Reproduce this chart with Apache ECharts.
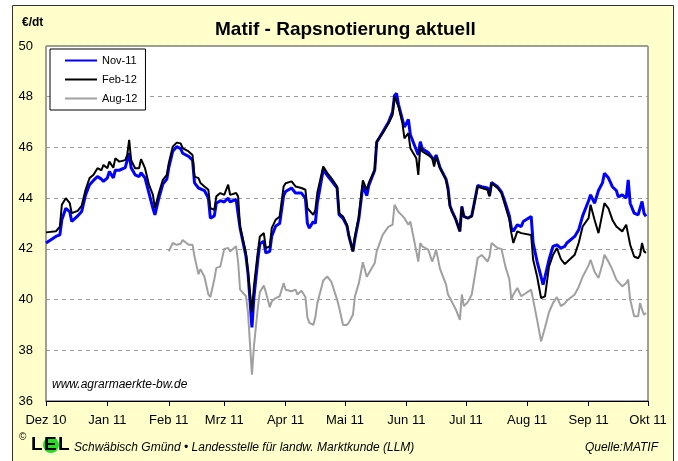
<!DOCTYPE html>
<html style="height: 100%">
<head>
<meta charset="utf-8">
</head>
<body style="height: 100%; margin: 0; background: #fff">
<div id="container" style="width: 678px; height: 461px"></div>
<script src="https://cdn.jsdelivr.net/npm/echarts@6/dist/echarts.min.js"></script>
<script type="text/javascript">
// trading days (approx.)
var dates = [
 '2010-12-01','2010-12-06','2010-12-08','2010-12-09','2010-12-11','2010-12-13','2010-12-14','2010-12-17','2010-12-19','2010-12-21',
 '2010-12-23','2010-12-25','2010-12-27','2010-12-29','2010-12-30','2011-01-01','2011-01-02','2011-01-04','2011-01-05','2011-01-07',
 '2011-01-10','2011-01-11','2011-01-12','2011-01-13','2011-01-15','2011-01-17','2011-01-18','2011-01-20','2011-01-22','2011-01-24',
 '2011-01-25','2011-01-27','2011-01-29','2011-01-31','2011-02-01','2011-02-03','2011-02-05','2011-02-07','2011-02-08','2011-02-11',
 '2011-02-13','2011-02-14','2011-02-16','2011-02-17','2011-02-19','2011-02-21','2011-02-22','2011-02-24','2011-02-25','2011-02-27',
 '2011-03-01','2011-03-03','2011-03-04','2011-03-07','2011-03-08','2011-03-09','2011-03-12','2011-03-13','2011-03-15','2011-03-16',
 '2011-03-18','2011-03-19','2011-03-21','2011-03-22','2011-03-24','2011-03-25','2011-03-27','2011-03-29','2011-03-31','2011-04-01',
 '2011-04-04','2011-04-06','2011-04-07','2011-04-09','2011-04-11','2011-04-12','2011-04-13','2011-04-15','2011-04-16','2011-04-17',
 '2011-04-20','2011-04-22','2011-04-24','2011-04-27','2011-04-28','2011-04-30','2011-05-02','2011-05-03','2011-05-05','2011-05-06',
 '2011-05-08','2011-05-10','2011-05-12','2011-05-13','2011-05-16','2011-05-17','2011-05-20','2011-05-23','2011-05-25','2011-05-26',
 '2011-05-27','2011-05-28','2011-05-30','2011-05-31','2011-06-02','2011-06-03','2011-06-06','2011-06-07','2011-06-08','2011-06-09',
 '2011-06-12','2011-06-14','2011-06-15','2011-06-16','2011-06-18','2011-06-21','2011-06-22','2011-06-23','2011-06-24','2011-06-26',
 '2011-06-28','2011-06-29','2011-06-30','2011-07-02','2011-07-04','2011-07-07','2011-07-09','2011-07-12','2011-07-13','2011-07-14',
 '2011-07-17','2011-07-19','2011-07-21','2011-07-23','2011-07-24','2011-07-25','2011-07-27','2011-07-29','2011-07-30','2011-08-03',
 '2011-08-04','2011-08-06','2011-08-08','2011-08-09','2011-08-10','2011-08-12','2011-08-14','2011-08-16','2011-08-18','2011-08-20',
 '2011-08-21','2011-08-25','2011-08-27','2011-08-29','2011-09-01','2011-09-02','2011-09-04','2011-09-06','2011-09-08','2011-09-09',
 '2011-09-11','2011-09-13','2011-09-15','2011-09-16','2011-09-18','2011-09-20','2011-09-21','2011-09-22','2011-09-24','2011-09-26',
 '2011-09-27','2011-09-28','2011-09-29','2011-09-30'
];
var nov11 = [
 42.23,42.49,42.55,43.15,43.6,43.47,43.08,43.3,43.47,44.13,
 44.53,44.7,44.85,44.75,44.66,44.8,45.05,44.8,45.1,45.1,
 45.2,45.25,45.77,45.2,44.92,44.85,45.0,44.8,44.2,43.6,
 43.34,44.0,44.55,44.75,45.2,45.85,46.03,45.95,45.77,45.65,
 45.5,44.6,44.4,44.33,44.3,44.0,43.21,43.3,43.8,43.9,
 43.85,44.0,43.85,43.95,43.9,42.82,41.7,41.05,38.9,40.1,
 41.6,42.2,42.3,41.84,41.9,42.5,42.9,43.0,44.1,44.26,
 44.4,44.2,44.13,44.2,44.0,43.0,42.82,43.08,43.0,43.8,
 45.12,44.9,44.7,44.4,43.35,43.2,42.9,42.49,41.9,42.4,
 43.2,44.5,44.1,44.5,45.1,46.2,46.6,47.0,47.4,48.05,
 48.13,47.7,47.1,46.8,47.1,46.5,45.9,45.7,46.23,45.95,
 45.8,45.6,45.5,45.7,45.2,44.75,44.4,43.7,43.5,43.15,
 42.69,43.67,43.28,43.21,43.3,44.5,44.45,44.4,44.1,44.62,
 44.45,44.25,43.8,43.3,42.82,42.7,42.95,42.88,43.08,43.28,
 42.23,41.5,40.9,40.59,40.9,41.57,42.1,42.16,42.03,42.1,
 42.23,42.49,42.75,43.3,43.9,44.13,43.8,44.3,44.6,44.98,
 44.8,44.45,44.3,44.05,44.13,44.0,44.72,43.8,43.41,43.34,
 43.4,43.87,43.4,43.28
];
var feb12 = [
 42.65,42.69,42.88,43.74,44.0,43.8,43.41,43.5,43.7,44.33,
 44.79,44.92,45.18,45.1,45.31,45.18,45.44,45.2,45.57,45.44,
 45.5,45.7,46.3,45.5,45.18,45.18,45.54,45.18,44.53,44.13,
 43.6,44.2,44.72,44.92,45.38,46.03,46.19,46.16,45.97,45.84,
 45.7,44.85,44.79,44.6,44.46,44.33,43.6,43.54,44.07,44.2,
 44.13,44.53,44.13,44.2,44.07,42.88,41.83,41.05,39.5,40.52,
 41.9,42.49,42.62,42.03,42.1,42.82,43.15,43.28,44.46,44.59,
 44.66,44.46,44.46,44.4,44.33,43.6,43.54,43.34,43.54,44.2,
 45.25,45.0,44.8,44.46,43.41,43.28,42.95,42.49,41.9,42.49,
 43.28,44.7,44.33,44.6,45.12,46.23,46.56,46.95,47.28,48.0,
 48.07,47.61,46.95,46.36,46.56,45.97,45.57,44.92,46.03,45.84,
 45.7,45.57,45.25,45.64,45.18,44.72,44.33,43.67,43.47,43.15,
 42.69,43.67,43.28,43.21,43.28,44.46,44.4,44.33,44.07,44.59,
 44.4,44.2,43.67,43.15,42.62,42.23,42.69,42.62,42.69,42.55,
 41.57,40.91,40.06,40.06,40.13,41.3,41.76,42.03,41.6,41.4,
 41.44,41.77,42.23,42.88,43.21,43.74,43.15,42.62,43.41,43.8,
 43.6,43.15,42.88,42.88,42.69,42.95,43.02,42.16,41.7,41.63,
 41.76,42.23,41.9,41.84
];
var aug12 = [
 null,null,null,null,null,null,null,null,null,null,
 null,null,null,null,null,null,null,null,null,null,
 null,null,null,null,null,null,null,null,null,null,
 null,null,null,null,41.9,42.23,42.16,42.2,42.35,42.16,
 42.16,41.7,41.0,41.2,40.9,40.2,40.1,40.8,41.25,41.3,
 42.0,42.03,41.9,42.1,41.5,40.39,40.13,39.5,37.04,38.16,
 39.7,40.3,40.55,40.3,39.7,39.93,40.06,40.13,40.65,40.39,
 40.33,40.39,40.2,40.35,40.1,39.3,39.08,39.0,39.3,39.85,
 40.75,40.91,40.72,40.0,39.7,39.0,39.0,39.1,39.4,40.13,
 40.65,41.47,40.9,40.85,41.44,41.9,42.55,42.88,42.95,43.74,
 43.67,43.45,43.3,43.21,42.95,43.08,41.9,41.5,42.23,42.1,
 41.97,41.5,41.7,41.97,41.2,40.6,40.2,40.06,40.13,39.6,
 39.2,40.2,39.74,39.9,40.2,41.64,41.76,41.5,41.7,42.23,
 42.03,42.0,41.3,40.79,40.0,40.2,40.46,40.13,40.2,40.39,
 40.0,39.2,38.35,38.4,38.9,39.5,39.86,40.1,39.74,39.85,
 39.95,40.2,40.5,40.9,41.35,41.57,41.1,40.85,41.4,41.77,
 41.5,41.18,40.79,40.72,40.52,40.65,40.79,40.0,39.34,39.34,
 39.86,39.6,39.4,39.47
];
var monthStarts = ['2010-12-01','2011-01-01','2011-02-01','2011-03-01','2011-04-01','2011-05-01',
                   '2011-06-01','2011-07-01','2011-08-01','2011-09-01','2011-10-01'];
var monthLabels = ['Dez 10','Jan 11','Feb 11','Mrz 11','Apr 11','Mai 11',
                   'Jun 11','Jul 11','Aug 11','Sep 11','Okt 11'];

var t0 = new Date('2010-12-01').getTime();
function dayOf(s) {
    return Math.round((new Date(s).getTime() - t0) / 86400000);
}
function pairs(vals) {
    return dates.map(function (d, i) {
        return [dayOf(d), vals[i] == null ? '-' : vals[i]];
    });
}
var tickDays = monthStarts.map(dayOf);

var font = 'Liberation Sans, Arial, sans-serif';
var dom = document.getElementById('container');
var myChart = echarts.init(dom, null, {renderer: 'canvas'});
var option = {
    backgroundColor: '#fff',
    animation: false,
    textStyle: {fontFamily: font},
    title: {
        text: 'Matif - Rapsnotierung aktuell',
        left: 210,
        top: 15,
        textStyle: {fontSize: 19, fontWeight: 'bold', color: '#000', fontFamily: font}
    },
    graphic: [
        {type: 'rect', z: -10, shape: {x: 12.5, y: 5.5, width: 661, height: 460},
         style: {fill: '#ffffcc', stroke: '#333', lineWidth: 1}},
        {type: 'text', left: 22, top: 17,
         style: {text: '€/dt', font: 'bold 12px ' + font, fill: '#000'}},
        {type: 'text', left: 52, top: 379, z: 10,
         style: {text: 'www.agrarmaerkte-bw.de', font: 'italic 12px ' + font, fill: '#000'}},
        {type: 'text', left: 19, top: 432,
         style: {text: '©', font: '10px ' + font, fill: '#000'}},
        {type: 'text', left: 31, top: 435,
         style: {text: 'L', font: 'bold 19px ' + font, fill: '#000'}},
        {type: 'circle', shape: {cx: 51, cy: 445, r: 8},
         style: {fill: '#22dd22'}},
        {type: 'text', left: 44, top: 435,
         style: {text: 'E', font: 'bold 19px ' + font, fill: '#000'}},
        {type: 'text', left: 58, top: 435,
         style: {text: 'L', font: 'bold 19px ' + font, fill: '#000'}},
        {type: 'text', left: 74, top: 442,
         style: {text: 'Schwäbisch Gmünd • Landesstelle für landw. Marktkunde (LLM)',
                 font: 'italic 12px ' + font, fill: '#000'}},
        {type: 'text', right: 20, top: 442,
         style: {text: 'Quelle:MATIF', font: 'italic 12px ' + font, fill: '#000'}}
    ],
    legend: {
        orient: 'vertical',
        left: 50,
        top: 49,
        data: ['Nov-11', 'Feb-12', 'Aug-12'],
        backgroundColor: '#fff',
        borderColor: '#000',
        borderWidth: 1,
        padding: [6, 8, 6, 14],
        itemGap: 8,
        itemWidth: 32,
        itemHeight: 12,
        itemStyle: {opacity: 0},
        textStyle: {fontSize: 11, color: '#000', fontFamily: font}
    },
    grid: {
        left: 46,
        top: 46,
        width: 602,
        height: 355,
        show: true,
        backgroundColor: '#fff',
        borderColor: '#404040',
        borderWidth: 1
    },
    xAxis: {
        type: 'value',
        min: 0,
        max: 304,
        axisLine: {show: true, lineStyle: {color: '#000', width: 1}},
        axisTick: {show: true, length: 5, customValues: tickDays, lineStyle: {color: '#000'}},
        axisLabel: {
            customValues: tickDays,
            margin: 13,
            fontSize: 13,
            color: '#000',
            fontFamily: font,
            formatter: function (v) {
                var i = tickDays.indexOf(v);
                return i >= 0 ? monthLabels[i] : '';
            }
        },
        splitLine: {show: false}
    },
    yAxis: {
        type: 'value',
        min: 36,
        max: 50,
        interval: 2,
        axisLine: {show: false},
        axisTick: {show: false},
        axisLabel: {margin: 13, fontSize: 13, color: '#000', fontFamily: font},
        splitLine: {show: true, lineStyle: {color: '#999', type: [4, 4], width: 1}}
    },
    series: [
        {
            name: 'Nov-11', type: 'line', z: 3, symbol: 'none',
            lineStyle: {color: '#0000ff', width: 3}, itemStyle: {color: '#0000ff'},
            data: pairs(nov11)
        },
        {
            name: 'Feb-12', type: 'line', z: 4, symbol: 'none',
            lineStyle: {color: '#000', width: 2}, itemStyle: {color: '#000'},
            data: pairs(feb12)
        },
        {
            name: 'Aug-12', type: 'line', z: 2, symbol: 'none',
            lineStyle: {color: '#a0a0a0', width: 2}, itemStyle: {color: '#a0a0a0'},
            data: pairs(aug12)
        }
    ]
};
myChart.setOption(option);
</script>
</body>
</html>
